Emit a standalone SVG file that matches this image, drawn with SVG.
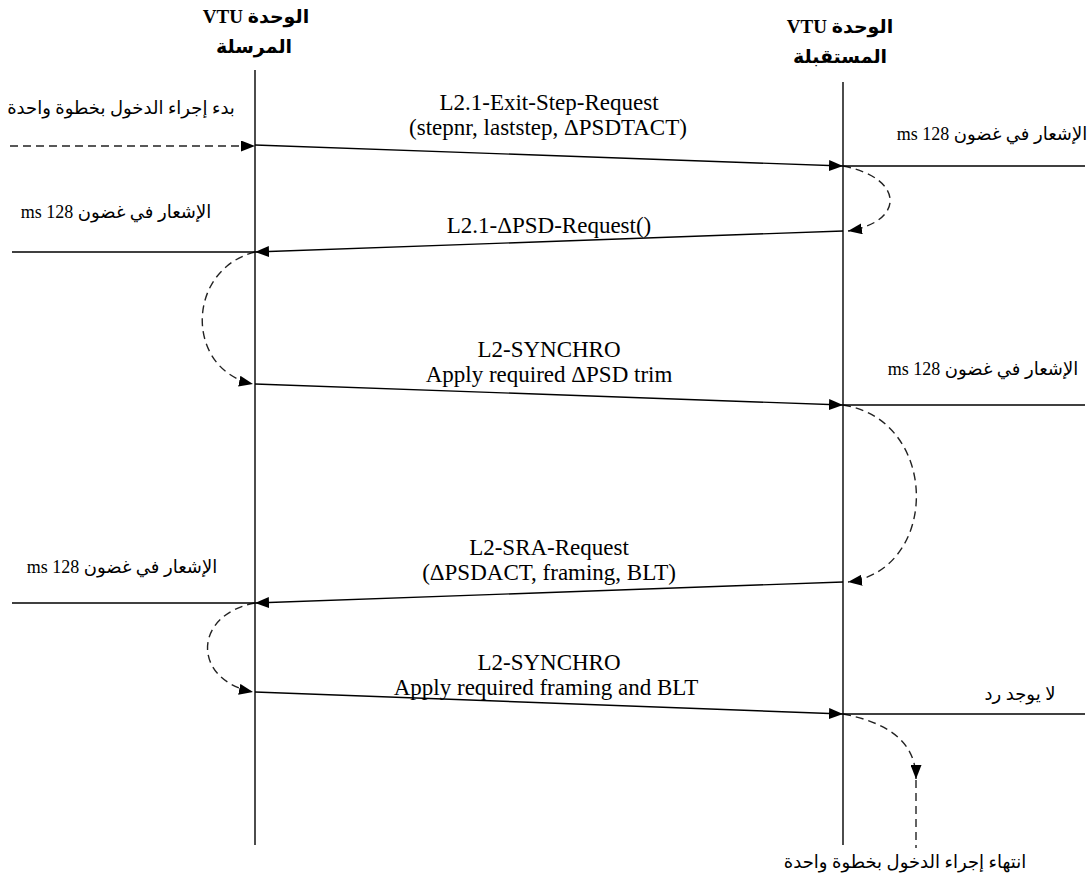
<svg xmlns="http://www.w3.org/2000/svg" width="1092" height="890" viewBox="0 0 1092 890">
<style>
.life{stroke:#000;stroke-width:1.4;fill:none}
.msg{stroke:#000;stroke-width:1.4;fill:none;marker-end:url(#ah)}
.hl{stroke:#000;stroke-width:1.4;fill:none}
.dash{stroke:#222;stroke-width:1.4;fill:none;stroke-dasharray:8 5}
.dasha{stroke:#222;stroke-width:1.4;fill:none;stroke-dasharray:8 5;marker-end:url(#ah)}
.lbl{font-family:"Liberation Serif","Times New Roman",serif;font-size:23px;fill:#000;text-anchor:middle}
.ar{font-family:"Liberation Serif","DejaVu Sans",serif;font-size:18px;fill:#000;text-anchor:middle;direction:rtl;unicode-bidi:embed}
.hd{font-family:"Liberation Serif","DejaVu Sans",serif;font-size:19px;font-weight:bold;fill:#000;text-anchor:middle;direction:rtl;unicode-bidi:embed}
</style>
<defs>
<marker id="ah" markerUnits="userSpaceOnUse" markerWidth="15" markerHeight="11" refX="14" refY="5.5" orient="auto">
<path d="M0,0 L14,5.5 L0,11 z" fill="#000"/>
</marker>
</defs>
<rect width="1092" height="890" fill="#fff"/>

<g id="sender">
<text class="hd" x="256" y="23">الوحدة VTU</text>
<text class="hd" x="254" y="53">المرسلة</text>
<line class="life" x1="255" y1="70" x2="255" y2="845"/>
</g>

<g id="receiver">
<text class="hd" x="840" y="33">الوحدة VTU</text>
<text class="hd" x="840" y="63">المستقبلة</text>
<line class="life" x1="843" y1="82" x2="843" y2="845"/>
</g>

<g id="connectors">
<path class="dasha" d="M10,146 L255,146"/>
<path class="msg" d="M255,145 L843,166"/>
<path class="dasha" d="M843,166 C905,178 905,222 848,231"/>
<path class="msg" d="M843,231 L255,252"/>
<path class="dasha" d="M255,252 C185,270 185,370 253,384"/>
<path class="msg" d="M255,384 L843,405"/>
<path class="dasha" d="M843,405 C940,420 940,570 848,582"/>
<path class="msg" d="M843,582 L255,603"/>
<path class="dasha" d="M255,603 C192,615 192,680 253,692"/>
<path class="msg" d="M255,692 L843,714"/>
<path class="dasha" d="M843,714 C885,722 916,740 916,779"/>
<path class="dash" d="M916,780 L916,848"/>
<line class="hl" x1="843" y1="166" x2="1085" y2="166"/>
<line class="hl" x1="12" y1="252" x2="255" y2="252"/>
<line class="hl" x1="843" y1="405" x2="1085" y2="405"/>
<line class="hl" x1="12" y1="603" x2="255" y2="603"/>
<line class="hl" x1="843" y1="714" x2="1085" y2="714"/>
</g>

<g id="msg1-label">
<text class="lbl" x="549" y="110">L2.1-Exit-Step-Request</text>
<text class="lbl" x="548" y="135">(stepnr, laststep, ΔPSDTACT)</text>
</g>
<g id="msg2-label">
<text class="lbl" x="549" y="233">L2.1-ΔPSD-Request()</text>
</g>
<g id="msg3-label">
<text class="lbl" x="549" y="357">L2-SYNCHRO</text>
<text class="lbl" x="549" y="382">Apply required ΔPSD trim</text>
</g>
<g id="msg4-label">
<text class="lbl" x="549" y="555">L2-SRA-Request</text>
<text class="lbl" x="549" y="580">(ΔPSDACT, framing, BLT)</text>
</g>
<g id="msg5-label">
<text class="lbl" x="549" y="670">L2-SYNCHRO</text>
<text class="lbl" x="546" y="695">Apply required framing and BLT</text>
</g>

<g id="start-note"><text class="ar" x="121" y="114">بدء إجراء الدخول بخطوة واحدة</text></g>
<g id="ack-1"><text class="ar" x="992" y="140">الإشعار في غضون 128 ms</text></g>
<g id="ack-2"><text class="ar" x="116" y="218">الإشعار في غضون 128 ms</text></g>
<g id="ack-3"><text class="ar" x="983" y="375">الإشعار في غضون 128 ms</text></g>
<g id="ack-4"><text class="ar" x="122" y="573">الإشعار في غضون 128 ms</text></g>
<g id="no-reply"><text class="ar" x="1020" y="700">لا يوجد رد</text></g>
<g id="end-note"><text class="ar" x="905" y="868">انتهاء إجراء الدخول بخطوة واحدة</text></g>
</svg>
